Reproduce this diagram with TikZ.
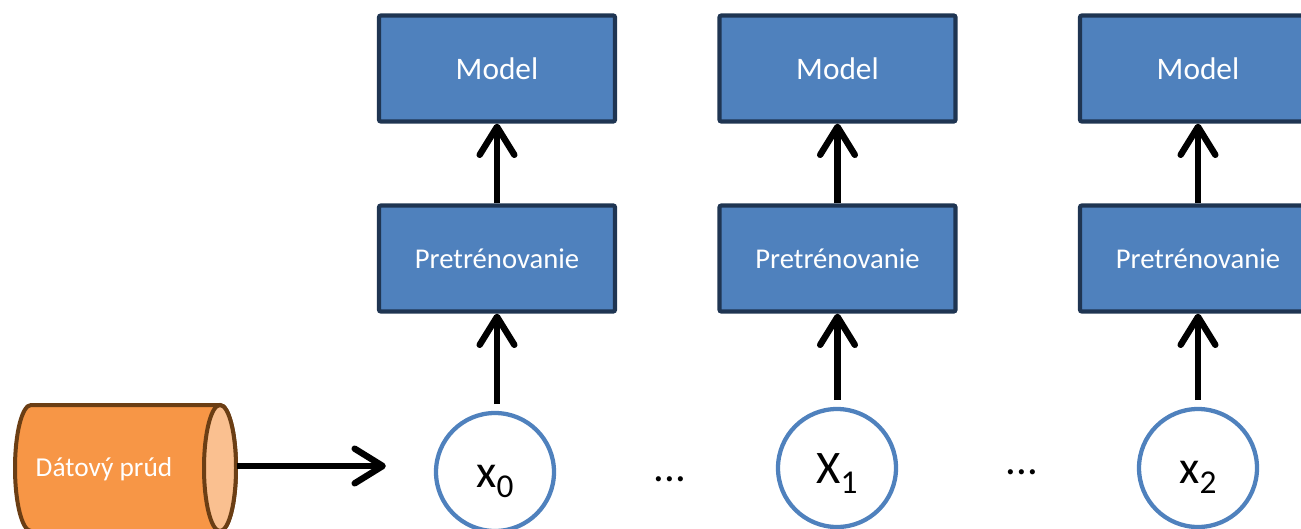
\documentclass[tikz,border=0pt]{standalone}
\usepackage{fontspec}
\setmainfont{Carlito}
\usetikzlibrary{arrows.meta}
\definecolor{boxfill}{HTML}{4F81BD}
\definecolor{boxline}{HTML}{1F3552}
\definecolor{cylfill}{HTML}{F79646}
\definecolor{cylendfill}{HTML}{FAC090}
\definecolor{cylline}{HTML}{6B3E14}
\newcommand\lowidx[1]{\raisebox{-7.5pt}{\fontsize{25}{25}\selectfont #1}}
\begin{document}
\begin{tikzpicture}[x=0.75pt,y=0.75pt,
  proc/.style={draw=boxline, line width=3.2pt, fill=boxfill, rounded corners=1.5pt,
    minimum width=177pt, minimum height=79.5pt, inner sep=0pt, text=white},
  modelbox/.style={proc, font=\fontsize{23.5}{28}\selectfont},
  retrainbox/.style={proc, font=\fontsize{21.5}{25}\selectfont},
  sample/.style={circle, draw=boxfill, line width=3.2pt, fill=white, minimum size=88.5pt,
    inner sep=0pt, text height=22.5pt, text depth=0pt, font=\fontsize{35}{40}\selectfont},
  flow/.style={line width=4.8pt,
    -{Straight Barb[length=21pt,width=26pt,line cap=round,line join=round]}},
  dotsnode/.style={font=\fontsize{32}{36}\selectfont, inner sep=0pt},
  streamtext/.style={text=white, font=\fontsize{20.5}{24}\selectfont, inner sep=0pt}
]
\path[use as bounding box] (0,0) rectangle (1301,-528);
\clip (0,0) rectangle (1301,-528);

% boxes
\node[modelbox] (m0) at (497,-68.5) {Model};
\node[modelbox] (m1) at (837.5,-68.5) {Model};
\node[modelbox] (m2) at (1198,-68.5) {Model};
\node[retrainbox] (p0) at (497,-258.5) {Pretrénovanie};
\node[retrainbox] (p1) at (837.5,-258.5) {Pretrénovanie};
\node[retrainbox] (p2) at (1198,-258.5) {Pretrénovanie};

% samples
\node[sample] (x0) at (495,-472) {x\lowidx{0}};
\node[sample] (x1) at (837,-468) {X\lowidx{1}};
\node[sample] (x2) at (1198,-468) {x\lowidx{2}};
\node[dotsnode] (d0) at (670,-479) {...};
\node[dotsnode] (d1) at (1022,-472) {...};

% cylinder
\draw[cylline, line width=3pt, fill=cylfill]
  (31,-405) -- (220,-405)
  arc[start angle=90, end angle=-90, x radius=12pt, y radius=47.25pt]
  -- (31,-531)
  arc[start angle=270, end angle=90, x radius=12pt, y radius=47.25pt] -- cycle;
\draw[cylline, line width=3pt, fill=cylendfill]
  (220,-468) ellipse[x radius=12pt, y radius=47.25pt];
\node[streamtext] (stream) at (104,-469) {Dátový prúd};
\coordinate (streamend) at (237,-466);

% connectors
\draw[flow, shorten >=36pt] (streamend) -- (streamend -| x0.west);
\foreach \i in {0,1,2}{
  \draw[flow, shorten <=5pt] (x\i.north -| p\i.south) -- (p\i.south);
  \draw[flow] (p\i.north) -- (m\i.south);
}
\end{tikzpicture}
\end{document}
